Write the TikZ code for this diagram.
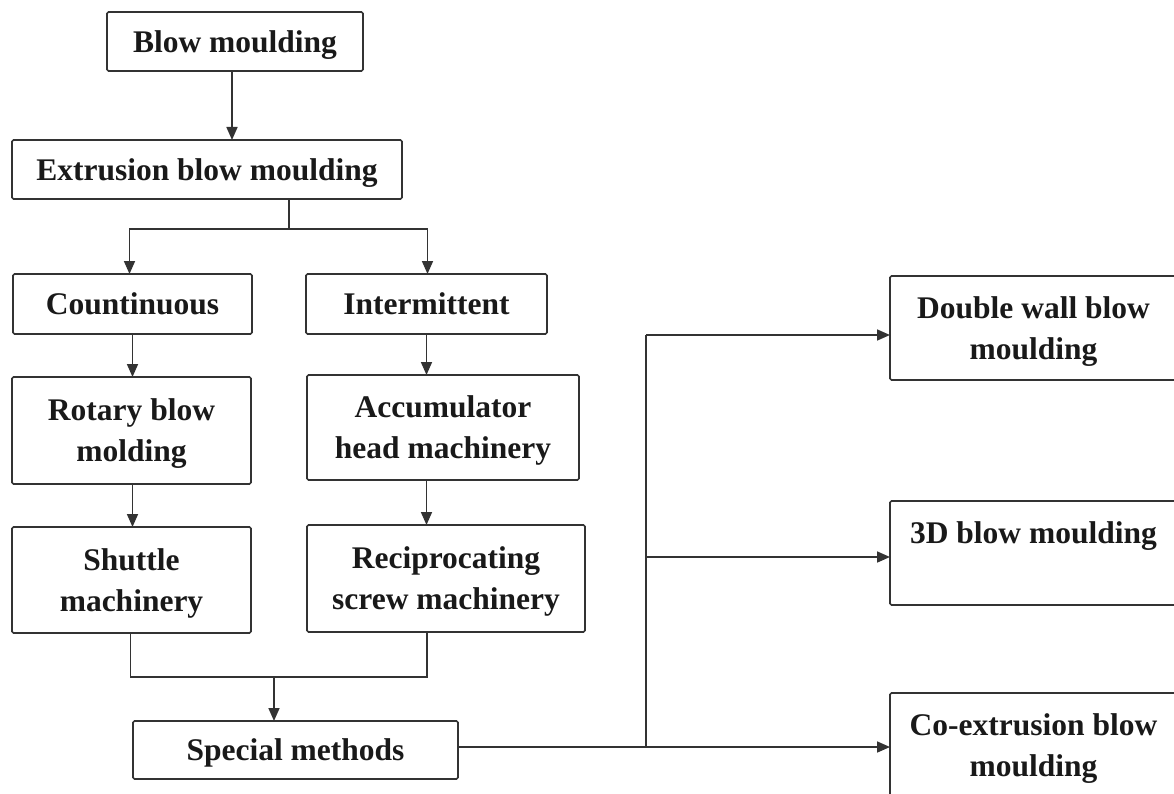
\documentclass[tikz,border=0pt]{standalone}
\usepackage{fontspec}
\setmainfont{Liberation Serif}
\usetikzlibrary{arrows.meta}
\begin{document}
\begin{tikzpicture}[x=1pt,y=-1pt,
  box/.style={draw=black!80, line width=1.7pt, rounded corners=1.5pt, align=center,
    inner sep=0pt, outer sep=0pt, text=black!90, text depth=0pt,
    font=\fontsize{31.5}{41}\selectfont\bfseries},
  link/.style={draw=black!80, line width=1.7pt},
  arr/.style={link, -{Triangle[length=13pt,width=11pt]}}]
\useasboundingbox (0,0) rectangle (1174,794);
\clip (0,0) rectangle (1174,794);
% nodes
\node[box, minimum width=256pt, minimum height=59pt] (bm) at (235,41.5) {Blow moulding};
\node[box, minimum width=390pt, minimum height=59pt] (ebm) at (207,169.5) {Extrusion blow moulding};
\node[box, minimum width=239pt, minimum height=60pt] (cont) at (132.5,304) {Countinuous};
\node[box, minimum width=241pt, minimum height=60pt] (inter) at (426.5,304) {Intermittent};
\node[box, minimum width=239pt, minimum height=107pt] (rot) at (131.5,430.5) {Rotary blow\\molding};
\node[box, minimum width=272pt, minimum height=105pt] (acc) at (443,427.5) {Accumulator\\head machinery};
\node[box, minimum width=239pt, minimum height=106pt] (shut) at (131.5,580) {Shuttle\\machinery};
\node[box, minimum width=278pt, minimum height=107pt] (rec) at (446,578.5) {Reciprocating\\screw machinery};
\node[box, minimum width=325pt, minimum height=58pt] (sp) at (295.5,750) {Special methods};
\node[box, minimum width=287pt, minimum height=104pt] (dw) at (1033.5,328) {Double wall blow\\moulding};
\node[box, minimum width=287pt, minimum height=104pt] (tdb) at (1033.5,553) {3D blow moulding\\\mbox{}};
\node[box, minimum width=287pt, minimum height=104pt] (co) at (1033.5,745) {Co-extrusion blow\\moulding};
% junctions
\coordinate (j1) at (289,229);
\coordinate (j2) at (274,677);
\coordinate (j3) at (646,747);
% connectors
\draw[arr] ([xshift=-3pt]bm.south) -- ([xshift=-3pt]bm.south |- ebm.north);
\draw[link] (ebm.south -| j1) -- (j1);
\draw[arr] (j1) -| ([xshift=-3pt]cont.north);
\draw[arr] (j1) -| ([xshift=1pt]inter.north);
\draw[arr] (cont.south) -- (cont.south |- rot.north);
\draw[arr] ([xshift=1pt]rot.south) -- ([xshift=1pt]rot.south |- shut.north);
\draw[arr] (inter.south) -- (inter.south |- acc.north);
\draw[arr] (acc.south -| inter.south) -- (rec.north -| inter.south);
\draw[link] ([xshift=-1pt]shut.south) |- (j2) -| ([xshift=-19pt]rec.south);
\draw[arr] (j2) -- (j2 |- sp.north);
\draw[link] (j3 -| sp.east) -- (j3);
\draw[link] (j3) -- ([yshift=-7pt]j3 |- dw.west);
\draw[arr] ([yshift=-7pt]j3 |- dw.west) -- ([yshift=-7pt]dw.west);
\draw[arr] ([yshift=-4pt]j3 |- tdb.west) -- ([yshift=-4pt]tdb.west);
\draw[arr] (j3) -- (j3 -| co.west);
\end{tikzpicture}
\end{document}
